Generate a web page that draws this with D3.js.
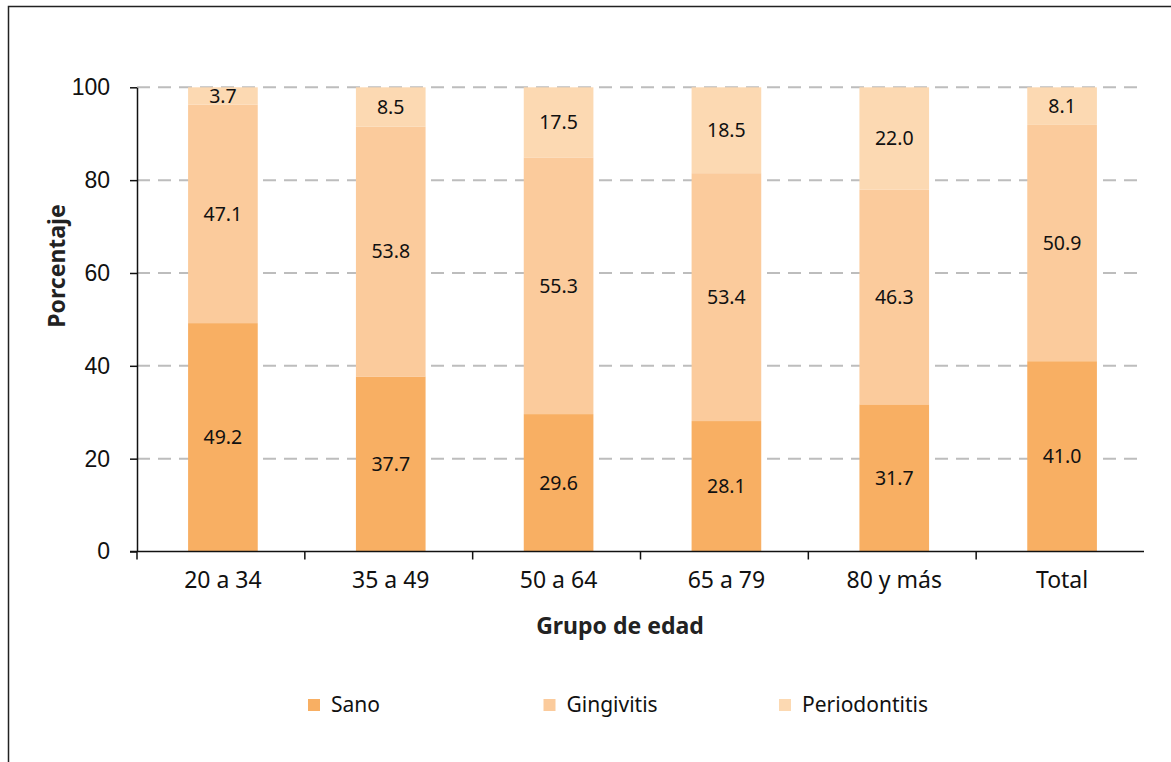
<!DOCTYPE html>
<html>
<head>
<meta charset="utf-8">
<script src="https://cdn.jsdelivr.net/npm/d3@7"></script>
<style>
  body { margin: 0; background: #fff; }
  svg { display: block; font-family: "Noto Sans", sans-serif; }
</style>
</head>
<body>
<svg width="1171" height="762"></svg>
<script>
// data
const groups = ["20 a 34", "35 a 49", "50 a 64", "65 a 79", "80 y más", "Total"];
const sano = [49.2, 37.7, 29.6, 28.1, 31.7, 41.0];
const gingivitis = [47.1, 53.8, 55.3, 53.4, 46.3, 50.9];
const periodontitis = [3.7, 8.5, 17.5, 18.5, 22.0, 8.1];
const seriesNames = ["Sano", "Gingivitis", "Periodontitis"];
const colors = ["#F8AF63", "#FBCB9C", "#FCD9B2"];
const yTicks = [0, 20, 40, 60, 80, 100];

const svg = d3.select("svg");

// outer frame (only top and left visible)
svg.append("path")
    .attr("d", "M8.5,762 L8.5,6.5 L1171,6.5")
    .attr("fill", "none").attr("stroke", "#222").attr("stroke-width", 1.5);

var x = d3.scaleBand().domain(groups).range([137, 1144]);
var y = d3.scaleLinear().domain([0, 100]).range([551.5, 87.3]).clamp(true);
var barW = x.bandwidth() * 0.415;

// gridlines
svg.append("g").selectAll("line").data(yTicks.slice(1)).enter().append("line")
    .attr("x1", 137).attr("x2", 1138)
    .attr("y1", d => y(d)).attr("y2", d => y(d))
    .attr("stroke", "#BDBDBD").attr("stroke-width", 2)
    .attr("stroke-dasharray", "13,8");

// stacked data
var table = groups.map(function (g, i) {
    return { group: g, Sano: sano[i], Gingivitis: gingivitis[i], Periodontitis: periodontitis[i] };
});
var stack = d3.stack().keys(seriesNames)(table);

var layers = svg.append("g").selectAll("g").data(stack).enter().append("g")
    .attr("fill", (d, i) => colors[i]);

layers.selectAll("rect").data(d => d).enter().append("rect")
    .attr("x", d => x(d.data.group) + (x.bandwidth() - barW) / 2 + 2)
    .attr("width", barW)
    .attr("y", d => y(d[1]))
    .attr("height", d => y(d[0]) - y(d[1]));

layers.selectAll("text").data(function (d) {
    return d.map(function (p) { return { p: p, key: d.key }; });
}).enter().append("text")
    .attr("x", d => x(d.p.data.group) + x.bandwidth() / 2 + 2)
    .attr("y", d => (y(d.p[0]) + y(d.p[1])) / 2)
    .attr("dy", "0.35em")
    .attr("text-anchor", "middle")
    .attr("fill", "#111")
    .style("font-size", "19.5px")
    .text(d => d3.format(".1f")(d.p.data[d.key]));

// y axis
var yAxis = svg.append("g").attr("transform", "translate(137,0)")
    .call(d3.axisLeft(y).tickValues(yTicks).tickSize(7).tickPadding(20).tickSizeOuter(0));
yAxis.select(".domain").attr("stroke", "#111").attr("stroke-width", 1.5);
yAxis.selectAll(".tick line").attr("stroke", "#111").attr("stroke-width", 1.5);
yAxis.selectAll("text").style("font-size", "23px").attr("fill", "#111");

// x axis
var xAxis = svg.append("g");
xAxis.append("line")
    .attr("x1", 130).attr("x2", 1144).attr("y1", y(0)).attr("y2", y(0))
    .attr("stroke", "#111").attr("stroke-width", 1.5);
xAxis.selectAll("line.tk").data(groups).enter().append("line").attr("class", "tk")
    .attr("x1", d => x(d)).attr("x2", d => x(d))
    .attr("y1", y(0)).attr("y2", y(0) + 8)
    .attr("stroke", "#111").attr("stroke-width", 1.5);
xAxis.selectAll("text").data(groups).enter().append("text")
    .attr("x", d => x(d) + x.bandwidth() / 2 + 2)
    .attr("y", 588)
    .attr("text-anchor", "middle")
    .attr("fill", "#111")
    .style("font-size", "23px")
    .text(d => d);

// axis titles
svg.append("text")
    .attr("x", 620).attr("y", 634)
    .attr("text-anchor", "middle")
    .attr("fill", "#222")
    .style("font-size", "23px").style("font-weight", "bold")
    .text("Grupo de edad");

svg.append("text")
    .attr("transform", "translate(65,266) rotate(-90)")
    .attr("text-anchor", "middle")
    .attr("fill", "#222")
    .style("font-size", "23px").style("font-weight", "bold")
    .text("Porcentaje");

// legend
var legend = svg.append("g").selectAll("g").data(seriesNames).enter().append("g")
    .attr("transform", (d, i) => "translate(" + (308 + i * 235.5) + ",705)");
legend.append("rect")
    .attr("x", 0).attr("y", -6).attr("width", 12).attr("height", 12)
    .attr("fill", (d, i) => colors[i]);
legend.append("text")
    .attr("x", 23).attr("dy", "0.35em")
    .attr("fill", "#111")
    .style("font-size", "21px")
    .text(d => d);
</script>
</body>
</html>
